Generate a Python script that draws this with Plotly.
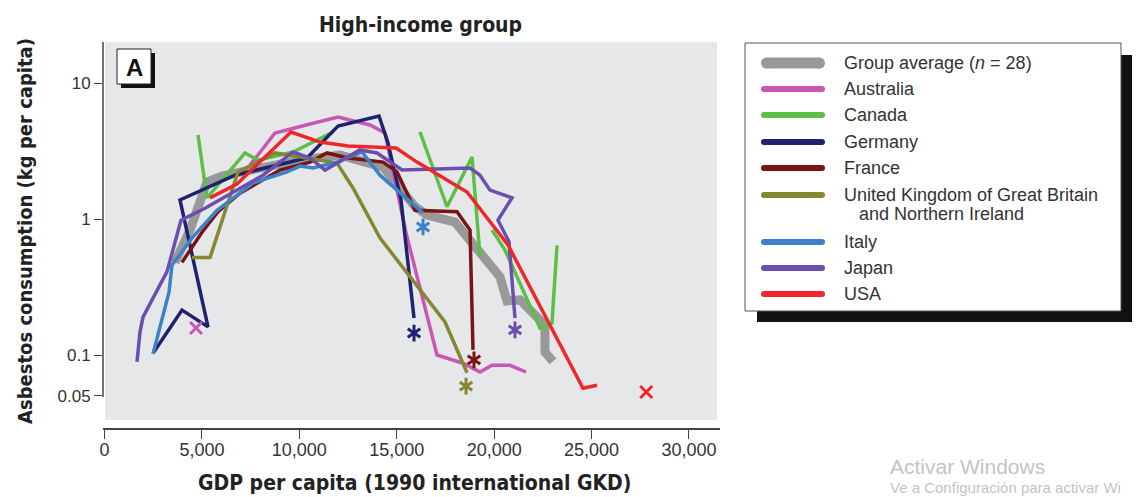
import plotly.graph_objects as go

# ---------------------------------------------------------------------------
# Asbestos consumption vs GDP per capita, high-income countries
# ---------------------------------------------------------------------------
avg_x = [3618, 4389, 5261, 6031, 7982, 10035, 12088, 14296, 15938, 16553,
         17990, 19274, 20300, 20659, 21326, 22609, 22609, 23020]
avg_y = [0.48, 0.83, 1.87, 2.07, 2.37, 2.71, 2.95, 2.41, 1.23, 1.07,
         0.95, 0.55, 0.375, 0.25, 0.254, 0.166, 0.105, 0.09]

australia_x = [7468, 8752, 10548, 11985, 13628, 14398, 15476, 17067, 18402,
               19274, 19890, 20814, 21635]
australia_y = [2.49, 4.29, 5.0, 5.62, 4.91, 4.29, 0.79, 0.10, 0.087,
               0.075, 0.084, 0.084, 0.075]

canada_x = [4799, 5261, 7212, 7879, 9676, 11729, None, 16194, 17580, 18864,
            19274, None, 19890, 20557, 22353, 22969, 23226]
canada_y = [4.15, 1.43, 3.06, 2.71, 3.11, 4.36, None, 4.36, 1.23, 2.86,
            0.53, None, 0.83, 0.59, 0.158, 0.172, 0.64]

germany_x = [2490, 3978, 5313, 3875, 6699, 10394, 11985, 14090, 14552,
             15220, 15887]
germany_y = [0.103, 0.214, 0.161, 1.38, 2.1, 2.81, 4.83, 5.72, 3.62,
             1.38, 0.187]

france_x = [3978, 5005, 5826, 6955, 9008, 10548, 11421, 12499, 14296,
            15015, 15938, 18094, 18761, 18915]
france_y = [0.48, 0.80, 1.13, 1.55, 2.29, 2.62, 3.06, 2.81, 2.62,
            2.22, 1.16, 1.13, 0.83, 0.109]

uk_x = [4492, 5415, 6853, 8752, 10394, 11934, 12755, 14141, 17477, 18607]
uk_y = [0.52, 0.52, 2.22, 3.06, 2.81, 2.58, 1.69, 0.725, 0.175, 0.074]

italy_x = [2490, 3311, 3465, 4543, 5775, 7623, 9368, 10035, 10702, 11934,
           13217, 14141, 16348]
italy_y = [0.102, 0.29, 0.46, 0.74, 1.16, 1.84, 2.22, 2.45, 2.37, 2.62,
           3.11, 2.1, 1.11]

japan_x = [1668, 1822, 1976, 3208, 3927, 5159, 8136, 9676, 10548, 11318,
           13114, 13987, 15271, 18761, 19274, 19787, 20916, 20197, 20762, 21070]
japan_y = [0.089, 0.148, 0.19, 0.41, 0.98, 1.2, 2.1, 3.11, 2.81, 2.29,
           3.22, 3.06, 2.29, 2.37, 2.1, 1.63, 1.43, 0.98, 0.68, 0.187]

usa_x = [5415, 6801, 9573, 11061, 12499, 14963, 16040, 18607, 20711, 24560, 25279]
usa_y = [1.43, 1.81, 4.36, 3.68, 3.44, 3.33, 2.62, 1.58, 0.644, 0.057, 0.060]

# end-of-series markers
star_x = [15887, 18966, 18556, 16348, 21070]
star_y = [0.145, 0.092, 0.059, 0.874, 0.153]
star_names = ["Germany", "France", "United Kingdom", "Italy", "Japan"]
cross_x = [4697, 27806]
cross_y = [0.158, 0.0535]
cross_names = ["Australia", "USA"]

x_ticks = [0, 5000, 10000, 15000, 20000, 25000, 30000]
x_ticktext = ["0", "5,000", "10,000", "15,000", "20,000", "25,000", "30,000"]
y_ticks = [0.05, 0.1, 1, 10]
y_ticktext = ["0.05", "0.1", "1", "10"]

# ---------------------------------------------------------------------------
colors = {
    "avg": "#999999",
    "Australia": "#c858b2",
    "Canada": "#5cbf48",
    "Germany": "#1e2270",
    "France": "#7a1414",
    "United Kingdom": "#878631",
    "Italy": "#3d82c8",
    "Japan": "#6a4fae",
    "USA": "#ee272d",
}

W, H = 1138, 497
L, R, T, B = 103, 720, 42, 428


def px(x):
    return (x - L) / (R - L)


def py(y):
    return (B - y) / (B - T)


REG = "Liberation Sans, Arial, sans-serif"
BOLD = "Liberation Sans Narrow, DejaVu Sans Condensed, Arial Narrow, sans-serif"

fig = go.Figure()

fig.add_trace(go.Scatter(x=avg_x, y=avg_y, mode="lines",
                         line=dict(color=colors["avg"], width=9),
                         hoverinfo="skip"))

series = [
    ("Australia", australia_x, australia_y),
    ("Canada", canada_x, canada_y),
    ("Germany", germany_x, germany_y),
    ("France", france_x, france_y),
    ("United Kingdom", uk_x, uk_y),
    ("Italy", italy_x, italy_y),
    ("Japan", japan_x, japan_y),
    ("USA", usa_x, usa_y),
]
for name, xs, ys in series:
    fig.add_trace(go.Scatter(x=xs, y=ys, mode="lines", name=name,
                             line=dict(color=colors[name], width=3.5),
                             connectgaps=False))

# six-armed asterisks: an upward and a downward "Y" drawn on the same point
star_cols = [colors[n] for n in star_names]
for sym in ("y-up-open", "y-down-open"):
    fig.add_trace(go.Scatter(
        x=star_x, y=star_y, mode="markers",
        marker=dict(symbol=sym, size=10.5, color=star_cols,
                    line=dict(width=3, color=star_cols))))
cross_cols = [colors[n] for n in cross_names]
fig.add_trace(go.Scatter(
    x=cross_x, y=cross_y, mode="markers",
    marker=dict(symbol="x-thin-open", size=12, color=cross_cols,
                line=dict(width=3, color=cross_cols))))

shapes = []
# plot panel background
shapes.append(dict(type="rect", xref="paper", yref="paper", layer="below",
                   x0=px(105), x1=px(717), y0=py(420), y1=py(42),
                   fillcolor="#e6e7e9", line=dict(width=0)))
# vertical axis line
shapes.append(dict(type="line", xref="paper", yref="paper",
                   x0=0, x1=0, y0=py(397), y1=py(42),
                   line=dict(color="#444444", width=1.5)))
# panel letter box
shapes.append(dict(type="rect", xref="paper", yref="paper",
                   x0=px(121), x1=px(155), y0=py(88), y1=py(53),
                   fillcolor="#111111", line=dict(width=0)))
shapes.append(dict(type="rect", xref="paper", yref="paper",
                   x0=px(117), x1=px(151), y0=py(84), y1=py(49),
                   fillcolor="white", line=dict(color="#222222", width=1)))
# key box with drop shadow
shapes.append(dict(type="rect", xref="paper", yref="paper",
                   x0=px(757), x1=px(1132), y0=py(322), y1=py(55),
                   fillcolor="#111111", line=dict(width=0)))
shapes.append(dict(type="rect", xref="paper", yref="paper",
                   x0=px(745), x1=px(1121), y0=py(311), y1=py(43),
                   fillcolor="white", line=dict(color="#555555", width=1)))

key_items = [
    ("avg", "Group average (<i>n</i> = 28)", 63),
    ("Australia", "Australia", 89),
    ("Canada", "Canada", 115),
    ("Germany", "Germany", 142),
    ("France", "France", 168),
    ("United Kingdom", "United Kingdom of Great Britain", 195),
    ("Italy", "Italy", 242),
    ("Japan", "Japan", 268),
    ("USA", "USA", 294),
]


def note(x, y, text, size, family=REG, color="#333333", xanchor="center", **kw):
    return dict(xref="paper", yref="paper", x=px(x), y=py(y), xanchor=xanchor,
                yanchor="middle", showarrow=False, text=text,
                font=dict(family=family, size=size, color=color), **kw)


annotations = []
for key, label, yc in key_items:
    w = 11 if key == "avg" else 6
    r = w / 2
    xa, xb = 761 + r, 825 - r
    shapes.append(dict(type="line", xref="paper", yref="paper",
                       x0=px(xa), x1=px(xb), y0=py(yc), y1=py(yc),
                       line=dict(color=colors[key], width=w)))
    for cx in (xa, xb):
        shapes.append(dict(type="circle", xref="paper", yref="paper",
                           x0=px(cx - r), x1=px(cx + r),
                           y0=py(yc + r), y1=py(yc - r),
                           fillcolor=colors[key], line=dict(width=0)))
    annotations.append(note(842, yc, label, 18, xanchor="left"))
annotations.append(note(857, 214, "and Northern Ireland", 18, xanchor="left"))

annotations += [
    note(134, 67, "<b>A</b>", 24, color="#111111"),
    note(420, 25, "<b>High-income group</b>", 21, family=BOLD, color="#222222"),
    note(415, 483, "<b>GDP per capita (1990 international GKD)</b>", 21,
         family=BOLD, color="#222222"),
    note(25, 231, "<b>Asbestos consumption (kg per capita)</b>", 20,
         family=BOLD, color="#222222", textangle=-90),
    note(888, 467, "Activar Windows", 21, color="#c4c4c4", xanchor="left"),
    note(888, 487, "Ve a Configuración para activar Wi", 15,
         color="#c4c4c4", xanchor="left"),
]

fig.update_layout(
    width=W, height=H,
    margin=dict(l=L, r=W - R, t=T, b=H - B, pad=0),
    paper_bgcolor="white", plot_bgcolor="rgba(0,0,0,0)",
    showlegend=False,
    shapes=shapes, annotations=annotations,
    xaxis=dict(range=[-77, 31592], showgrid=False, zeroline=False,
               tickvals=x_ticks, ticktext=x_ticktext,
               ticks="outside", ticklen=9, tickwidth=1, tickcolor="#444444",
               showline=True, linecolor="#444444", linewidth=1.5,
               ticklabelstandoff=-4,
               tickfont=dict(family=REG, size=18, color="#333333")),
    yaxis=dict(type="log", range=[-1.5368, 1.3015], showgrid=False,
               zeroline=False, tickvals=y_ticks, ticktext=y_ticktext,
               ticks="outside", ticklen=8, tickwidth=1, tickcolor="#444444",
               showline=False,
               tickfont=dict(family=REG, size=17, color="#333333")),
)

fig.write_html("out.html")
